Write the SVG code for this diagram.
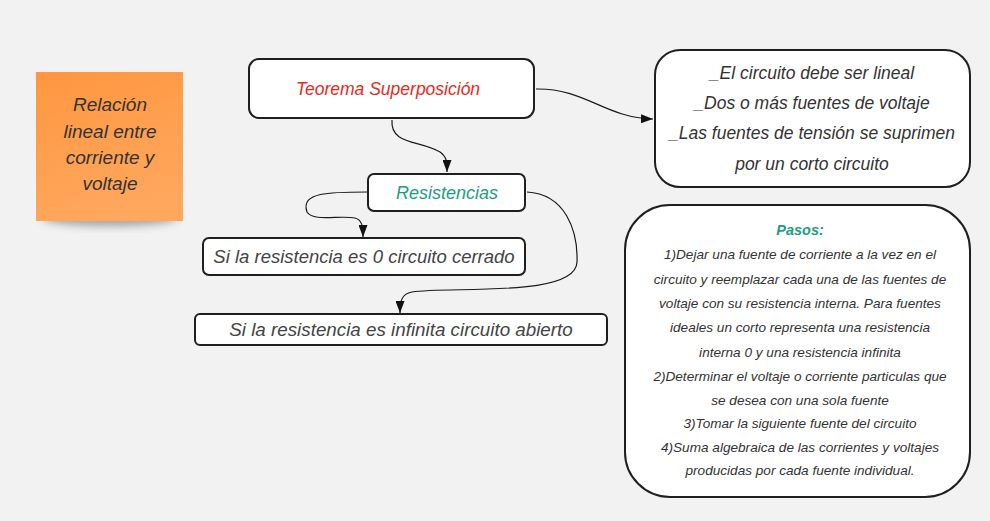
<svg xmlns="http://www.w3.org/2000/svg" width="990" height="521" viewBox="0 0 990 521">
<defs>
<style>
.box{fill:#ffffff;stroke:#1f1f1f;stroke-width:2}
.t{font-family:"Liberation Sans","Noto Sans",sans-serif;font-style:italic;text-anchor:middle}
.dark{fill:#333333}
.line{fill:none;stroke:#1a1a1a;stroke-width:1.2}
</style>
<marker id="arr" viewBox="0 0 10 10" refX="10" refY="5" markerWidth="12" markerHeight="9" markerUnits="userSpaceOnUse" orient="auto" preserveAspectRatio="none">
<path d="M0,0 L10,5 L0,10 Z" fill="#111"/>
</marker>
<linearGradient id="note" x1="0" y1="0" x2="0.3" y2="1">
<stop offset="0" stop-color="#ff9640"/>
<stop offset="1" stop-color="#ffa75c"/>
</linearGradient>
<filter id="sh" x="-20%" y="-20%" width="140%" height="160%">
<feGaussianBlur stdDeviation="4"/>
</filter>
</defs>
<rect width="990" height="521" fill="#f2f2f2"/>

<g id="note-relacion">
<ellipse cx="110" cy="218" rx="68" ry="8" fill="#555" opacity="0.5" filter="url(#sh)"/>
<rect x="36" y="72" width="147" height="149" fill="url(#note)"/>
<text class="t dark" font-size="19" x="110" y="111">Relación</text>
<text class="t dark" font-size="19" x="110" y="138">lineal entre</text>
<text class="t dark" font-size="19" x="110" y="164">corriente y</text>
<text class="t dark" font-size="19" x="110" y="190">voltaje</text>
</g>

<g id="node-teorema">
<rect class="box" x="249" y="59" width="285" height="59" rx="10"/>
<text class="t" font-size="17.5" fill="#e8291c" x="388" y="95">Teorema Superposición</text>
</g>

<g id="node-condiciones">
<rect class="box" x="655" y="50" width="315" height="137" rx="25"/>
<text class="t dark" font-size="17.5" x="812" y="79">_El circuito debe ser lineal</text>
<text class="t dark" font-size="17.5" x="812" y="109">_Dos o más fuentes de voltaje</text>
<text class="t dark" font-size="17.5" x="812" y="139">_Las fuentes de tensión se suprimen</text>
<text class="t dark" font-size="17.5" x="812" y="170">por un corto circuito</text>
</g>

<g id="node-resistencias">
<rect class="box" x="368" y="174" width="157" height="37" rx="6"/>
<text class="t" font-size="18" fill="#1a9e7f" x="447" y="199">Resistencias</text>
</g>

<g id="node-cerrado">
<rect class="box" x="203" y="238" width="322" height="37" rx="6"/>
<text class="t" font-size="18.5" fill="#444" x="364" y="263">Si la resistencia es 0 circuito cerrado</text>
</g>

<g id="node-abierto">
<rect class="box" x="195" y="314" width="412" height="31" rx="5"/>
<text class="t" font-size="18.8" fill="#444" x="401" y="336">Si la resistencia es infinita circuito abierto</text>
</g>

<g id="node-pasos">
<rect class="box" x="625" y="205" width="345" height="292" rx="45"/>
<text class="t" font-size="14.5" font-weight="bold" fill="#1a9e7f" x="800" y="235">Pasos:</text>
<text class="t dark" font-size="13.6" x="800" y="259">1)Dejar una fuente de corriente a la vez en el</text>
<text class="t dark" font-size="13.6" x="800" y="284">circuito y reemplazar cada una de las fuentes de</text>
<text class="t dark" font-size="13.6" x="800" y="308">voltaje con su resistencia interna. Para fuentes</text>
<text class="t dark" font-size="13.6" x="800" y="332">ideales un corto representa una resistencia</text>
<text class="t dark" font-size="13.6" x="800" y="357">interna 0 y una resistencia infinita</text>
<text class="t dark" font-size="13.6" x="800" y="381">2)Determinar el voltaje o corriente particulas que</text>
<text class="t dark" font-size="13.6" x="800" y="405">se desea con una sola fuente</text>
<text class="t dark" font-size="13.6" x="800" y="428">3)Tomar la siguiente fuente del circuito</text>
<text class="t dark" font-size="13.6" x="800" y="452">4)Suma algebraica de las corrientes y voltajes</text>
<text class="t dark" font-size="13.6" x="800" y="475">producidas por cada fuente individual.</text>
</g>

<g id="connectors">
<path class="line" marker-end="url(#arr)" d="M392,120 C390,145 420,140 440,152 C447,157 447,162 447,172"/>
<path class="line" marker-end="url(#arr)" d="M536,89 C585,88 605,118 653,119"/>
<path class="line" marker-end="url(#arr)" d="M367,192 C330,192 300,192 307,212 C313,222 340,215 355,218 C362,220 363,226 363,237"/>
<path class="line" marker-end="url(#arr)" d="M527,192 C565,194 578,230 577,262 C576,298 450,286 412,292 C401,294 400,302 400,313"/>
</g>
</svg>
